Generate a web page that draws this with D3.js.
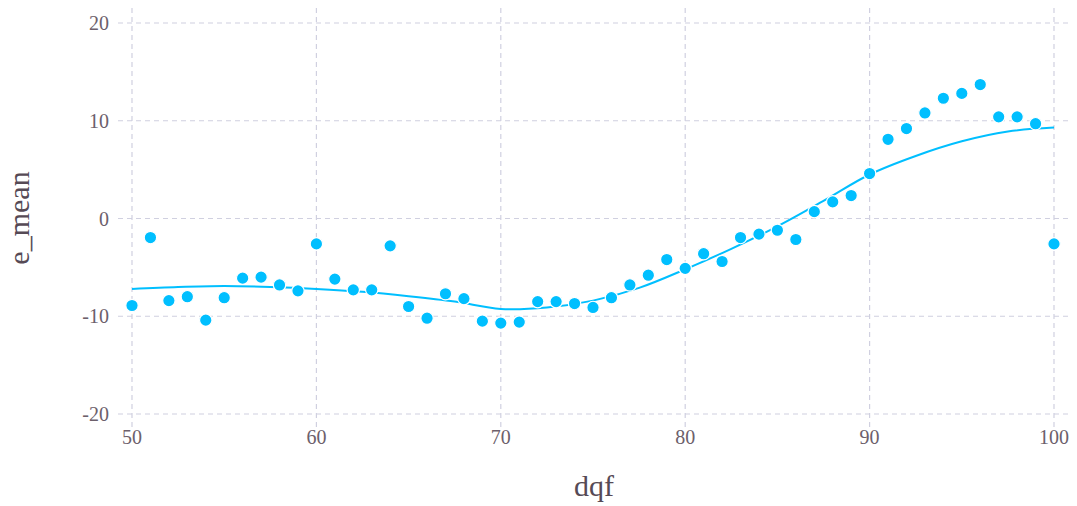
<!DOCTYPE html>
<html><head><meta charset="utf-8">
<script src="https://cdn.jsdelivr.net/npm/d3@7"></script>
<style>body{margin:0;background:#fff}svg{display:block}</style>
</head><body>
<svg id="chart" width="1077" height="506"></svg>
<script>
const dqf = [50,51,52,53,54,55,56,57,58,59,60,61,62,63,64,65,66,67,68,69,70,71,72,73,74,75,76,77,78,79,80,81,82,83,84,85,86,87,88,89,90,91,92,93,94,95,96,97,98,99,100];
const eMean = [-8.9,-1.95,-8.4,-8.0,-10.4,-8.1,-6.1,-6.0,-6.8,-7.4,-2.6,-6.2,-7.3,-7.3,-2.8,-9.0,-10.2,-7.7,-8.2,-10.5,-10.7,-10.6,-8.5,-8.5,-8.7,-9.1,-8.1,-6.8,-5.8,-4.2,-5.1,-3.6,-4.4,-1.95,-1.6,-1.2,-2.15,0.7,1.7,2.35,4.6,8.1,9.2,10.8,12.3,12.8,13.7,10.4,10.4,9.7,-2.6];
const smoothX = [50,52.5,55,57.5,60,62.5,65,67.5,70,72.5,75,77.5,80,82.5,85,87.5,90,92.5,95,97.5,100];
const smoothY = [-7.2,-7.0,-6.9,-7.0,-7.2,-7.5,-7.95,-8.5,-9.25,-9.1,-8.4,-7.1,-5.2,-3.1,-0.8,1.8,4.5,6.4,7.9,8.9,9.3];
const xTicks = [50,60,70,80,90,100];
const yTicks = [-20,-10,0,10,20];

const svg = d3.select("#chart");
const x = d3.scaleLinear().domain([50,100]).range([132,1054]);
const y = d3.scaleLinear().domain([-20,20]).range([414,23]);
const font = "'Liberation Serif', 'DejaVu Serif', serif";
const grid = "#d0d0e0";

// grid
svg.append("g").selectAll("line").data(yTicks).join("line")
  .attr("x1",118).attr("x2",1070).attr("y1",d=>y(d)).attr("y2",d=>y(d))
  .attr("stroke",grid).attr("stroke-width",1.2).attr("stroke-dasharray","5,4");
svg.append("g").selectAll("line").data(xTicks).join("line")
  .attr("y1",8).attr("y2",428).attr("x1",d=>x(d)).attr("x2",d=>x(d))
  .attr("stroke",grid).attr("stroke-width",1.2).attr("stroke-dasharray","5,4");

// tick labels
svg.append("g").selectAll("text").data(xTicks).join("text")
  .attr("x",d=>x(d)).attr("y",444).attr("text-anchor","middle")
  .attr("font-family",font).attr("font-size",20).attr("fill","#6c606b").text(d=>d);
svg.append("g").selectAll("text").data(yTicks).join("text")
  .attr("x",109).attr("y",d=>y(d)).attr("dy","0.35em").attr("text-anchor","end")
  .attr("font-family",font).attr("font-size",20).attr("fill","#6c606b").text(d=>d);

// axis titles
svg.append("text").attr("x",594).attr("y",496).attr("text-anchor","middle")
  .attr("font-family",font).attr("font-size",30).attr("fill","#564a55").text("dqf");
svg.append("text").attr("transform","translate(29,218) rotate(-90)").attr("text-anchor","middle")
  .attr("font-family",font).attr("font-size",30).attr("fill","#564a55").text("e_mean");

// smooth line
const line = d3.line().x((d,i)=>x(smoothX[i])).y(d=>y(d)).curve(d3.curveCatmullRom.alpha(0.5));
svg.append("path").datum(smoothY).attr("d",line)
  .attr("fill","none").attr("stroke","#00bfff").attr("stroke-width",2);

// points
svg.append("g").selectAll("circle").data(eMean).join("circle")
  .attr("cx",(d,i)=>x(dqf[i])).attr("cy",d=>y(d)).attr("r",6.2)
  .attr("fill","#00bfff").attr("stroke","#fff").attr("stroke-width",1.2);
</script>
</body></html>
